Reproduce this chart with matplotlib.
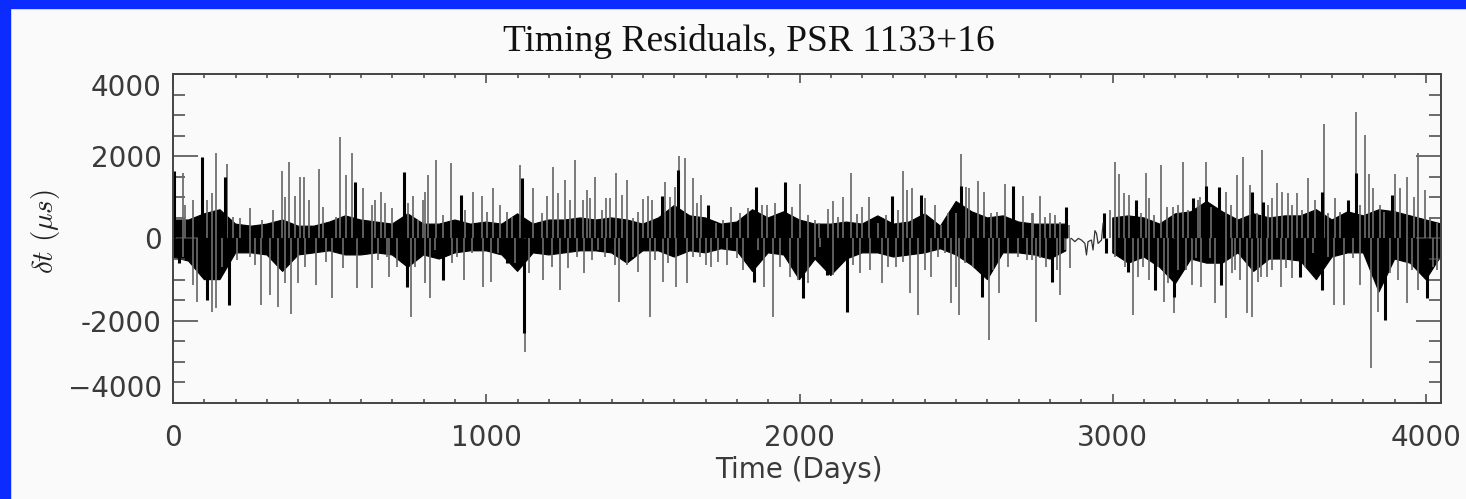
import numpy as np
import matplotlib
matplotlib.use("Agg")
from matplotlib import pyplot as plt
from matplotlib.ticker import MultipleLocator
from matplotlib.patches import Rectangle

# dense core of the residual band, sampled every 50 days (NaN = no data)
band_day = np.arange(0, 4051, 50)
band_hi = [450, 450, 600, 700, 350, 300, 350, 450, 300, 300, 400, 550, 450, 400,
           350, 600, 350, 350, 450, 350, 400, 350, 600, 350, 450, 450, 500, 450,
           500, 450, 350, 500, 800, 550, 500, 350, 400, 700, 500, 650, 450, 350,
           350, 400, 350, 550, 350, 400, 600, 300, 900, 650, 500, 550, 400, 350,
           350, 350, np.nan, np.nan, 500, 550, 500, 350, 600, 650, 900, 650, 450,
           600, 500, 550, 550, 700, 450, 650, 550, 700, 650, 550, 450, 350]
band_lo = [-450, -550, -1000, -1000, -350, -350, -400, -800, -400, -350, -300, -400,
           -400, -350, -400, -700, -400, -500, -350, -300, -300, -400, -800, -350,
           -400, -350, -300, -300, -350, -600, -300, -300, -450, -300, -350, -250,
           -300, -800, -350, -400, -1000, -500, -900, -500, -350, -350, -450, -400,
           -350, -250, -400, -650, -1000, -350, -350, -400, -500, -300, np.nan, np.nan,
           -350, -600, -450, -700, -1100, -500, -600, -600, -350, -800, -500, -500,
           -550, -1000, -450, -350, -350, -1300, -500, -600, -1000, -400]

# single outlying residuals (thin grey lines)
spike_day = [33, 38, 63, 110, 126, 137, 174, 190, 214, 246, 283, 320, 347, 357, 371,
             389, 407, 419, 435, 467, 480, 519, 533, 551, 573, 605, 634, 645, 664, 677,
             698, 749, 767, 783, 799, 805, 815, 840, 863, 887, 932, 959, 986, 1002,
             1020, 1044, 1065, 1081, 1108, 1150, 1177, 1193, 1214, 1230, 1252, 1268,
             1283, 1310, 1321, 1331, 1347, 1369, 1382, 1395, 1414, 1432, 1450, 1467,
             1485, 1501, 1515, 1528, 1570, 1586, 1602, 1616, 1636, 1659, 1672, 1684,
             1735, 1757, 1780, 1810, 1836, 1879, 1895, 1922, 1975, 2001, 2028, 2049,
             2062, 2092, 2108, 2123, 2139, 2164, 2182, 2200, 2221, 2251, 2276, 2313,
             2331, 2342, 2360, 2402, 2432, 2453, 2475, 2501, 2517, 2530, 2541, 2570,
             2590, 2611, 2629, 2656, 2714, 2741, 2746, 2767, 2783, 2799, 2815, 2833,
             2861, 2991, 3007, 3021, 3037, 3052, 3090, 3105, 3116, 3131, 3153, 3172,
             3191, 3209, 3225, 3241, 3271, 3280, 3297, 3315, 3361, 3377, 3395, 3416,
             3438, 3459, 3475, 3494, 3509, 3523, 3539, 3558, 3571, 3589, 3603, 3624,
             3645, 3673, 3688, 3709, 3725, 3775, 3789, 3805, 3818, 3830, 3853, 3867,
             3901, 3917, 3938, 3962, 3975, 3997, 4012, 4034,
             33, 65, 78, 123, 137, 155, 203, 246, 262, 280, 310, 334, 357, 376, 400,
             421, 455, 490, 508, 544, 586, 634, 655, 682, 688, 714, 760, 773, 803, 821,
             837, 890, 906, 930, 954, 989, 1015, 1039, 1092, 1124, 1137, 1180, 1209,
             1236, 1262, 1289, 1313, 1337, 1358, 1379, 1411, 1425, 1448, 1469, 1485,
             1523, 1539, 1563, 1581, 1606, 1642, 1661, 1682, 1701, 1719, 1741, 1767,
             1799, 1821, 1868, 1888, 1916, 1938, 1970, 1996, 2028, 2049, 2065, 2108,
             2171, 2193, 2225, 2262, 2283, 2308, 2331, 2354, 2379, 2400, 2421, 2441,
             2464, 2485, 2501, 2510, 2528, 2554, 2604, 2618, 2636, 2666, 2698, 2725,
             2741, 2755, 2767, 2787, 2823, 2831, 2847, 2863, 3007, 3039, 3065, 3081,
             3097, 3115, 3145, 3164, 3177, 3195, 3209, 3233, 3252, 3267, 3283, 3310,
             3326, 3363, 3379, 3390, 3406, 3427, 3445, 3465, 3473, 3491, 3507, 3536,
             3552, 3571, 3614, 3640, 3686, 3707, 3739, 3768, 3789, 3824, 3848, 3885,
             3911, 3938, 3954, 3973, 4023, 4034]
spike_val = [1590, 810, 935, 935, 1100, 2085, 1815, 530, 490, 735, 450, 690, 1640, 1000,
             1865, 1030, 1500, 1500, 935, 1680, 775, 530, 2460, 1545, 2085, 1220, 815,
             935, 1140, 855, 735, 855, 1030, 450, 935, 1140, 1545, 1905, 570, 1825, 690,
             1140, 1030, 650, 1220, 815, 650, 530, 1785, 1220, 610, 1030, 1730, 1100,
             1420, 935, 1905, 935, 1180, 975, 1500, 690, 975, 975, 1600, 1055, 1420,
             490, 650, 950, 1030, 935, 1380, 1015, 1260, 2005, 1950, 1460, 855, 1055,
             370, 450, 775, 610, 735, 815, 815, 855, 775, 1325, 570, 450, 370, 710, 920,
             530, 1000, 1600, 595, 775, 1000, 370, 570, 690, 1640, 1180, 1220, 975, 815,
             330, 610, 610, 2055, 1260, 1220, 1405, 1140, 610, 650, 1325, 1030, 610,
             610, 1030, 530, 610, 570, 410, 330, 690, 1865, 1580, 1100, 1055, 610, 1600,
             975, 570, 1785, 775, 775, 815, 1865, 690, 935, 1015, 1865, 775, 1140, 815,
             1545, 1990, 1300, 610, 2150, 815, 975, 1355, 1140, 1100, 815, 1100, 690,
             1460, 935, 2780, 610, 975, 650, 3080, 815, 2515, 1580, 1220, 815, 650,
             1580, 1220, 1500, 1015, 2070, 1180, 530, 370,
             -440, -1130, -1540, -1780, -1700, -685, -520, -440, -640, -1620, -1375,
             -1660, -1090, -1835, -1090, -685, -1130, -565, -1455, -725, -1210, -1210,
             -520, -440, -930, -685, -1900, -685, -1090, -1455, -280, -600, -440, -1010,
             -360, -1170, -1050, -360, -600, -2750, -845, -1010, -685, -1250, -725,
             -440, -845, -520, -280, -440, -645, -1540, -645, -440, -805, -1900, -520,
             -1050, -600, -1170, -1090, -440, -440, -645, -685, -565, -645, -480, -765,
             -280, -1170, -1900, -685, -930, -1010, -1090, -440, -200, -890, -645, -845,
             -765, -1090, -685, -685, -565, -1315, -1860, -765, -930, -440, -360, -1580,
             -1170, -1860, -600, -685, -2465, -765, -1335, -685, -440, -520, -520, -2020,
             -480, -685, -765, -1375, -280, -725, -440, -685, -1860, -930, -685, -1010,
             -685, -1540, -1090, -1820, -765, -765, -1130, -480, -1170, -480, -1580,
             -1945, -845, -765, -1010, -1820, -1900, -1050, -930, -930, -765, -1170,
             -725, -970, -685, -360, -440, -1620, -1620, -480, -1130, -3150, -1780,
             -845, -1010, -1580, -765, -1250, -685, -765]

# heavier clusters of residuals (black strokes)
dark_day = [3, 20, 94, 110, 166, 180, 581, 736, 746, 863, 920, 1065, 1115, 1122, 1560,
            1613, 1709, 1856, 1861, 1954, 2012, 2089, 2150, 2296, 2389, 2514, 2581,
            2682, 2805, 2850, 2972, 2978, 3047, 3074, 3134, 3195, 3257, 3299, 3340,
            3344, 3445, 3481, 3598, 3669, 3669, 3752, 3778, 3869, 3890, 4002]
dark_val = [1630, -600, 1990, -1500, 1500, -1620, 1380, 1625, -1170, -1010, 1055, -600,
            1460, -2300, 1030, 1660, 815, -1050, 1260, 1380, -1455, -890, -1780, 1030,
            1055, 1275, -1415, 1275, -1050, 775, 610, -360, -805, 935, -1250, -1415,
            975, 1275, 1260, -1130, 1140, 895, -930, 1140, -1250, 935, 1600, -1980,
            1055, -1455]

# quiet stretch with no large outliers
gap_day = [2868, 2879, 2890, 2900, 2911, 2916, 2921, 2932, 2937, 2943, 2948, 2953,
           2964, 2969]
gap_val = [0, -77, 2, -38, -120, -400, -77, -38, -280, 190, 125, -120, -38, 365]

fig = plt.figure(figsize=(14.66, 4.99), dpi=100)
fig.patch.set_facecolor('#fafafa')
fig.patches.append(Rectangle((0, 0), 10 / 1466, 1, transform=fig.transFigure,
                             color='#0c2cff', zorder=0))
fig.patches.append(Rectangle((0, 1 - 8 / 499), 1, 8 / 499, transform=fig.transFigure,
                             color='#0c2cff', zorder=0))

ax = fig.add_axes([0.1180, 0.1924, 0.8650, 0.6593])
ax.set_facecolor('#fafafa')

ax.vlines(spike_day, 0, spike_val, color='#6a6a6a', lw=1.25)
ax.fill_between(band_day, band_lo, band_hi, color='black', lw=0.8, edgecolor='black')
ax.vlines(dark_day, 0, dark_val, color='black', lw=2.2)
ax.plot(gap_day, gap_val, color='#333333', lw=0.9)

ax.set_xlim(0, 4048)
ax.set_ylim(-4000, 4000)
ax.set_xticks([0, 1000, 2000, 3000, 4000])
ax.set_yticks([-4000, -2000, 0, 2000, 4000])
ax.set_yticklabels(['\u22124000', '-2000', '0', '2000', '4000'])
ax.xaxis.set_minor_locator(MultipleLocator(100))
ax.yaxis.set_minor_locator(MultipleLocator(500))

tick_col = '#444444'
ax.tick_params(which='both', direction='in', top=True, right=True, color=tick_col,
               width=1.1, labelsize=20, labelcolor='#3a3a3a')
ax.tick_params(axis='x', which='major', length=6.5, pad=15)
ax.tick_params(axis='x', which='minor', length=3.2)
ax.tick_params(axis='y', which='major', length=18, pad=8)
ax.tick_params(axis='y', which='minor', length=8.6)
for sp in ax.spines.values():
    sp.set_color(tick_col)
    sp.set_linewidth(1.4)

# end labels sit inside the axis range, as in the original plot
ylabs = ax.get_yticklabels()
ylabs[0].set_verticalalignment('bottom')
ylabs[-1].set_verticalalignment('top')

fig.text(0.511, 0.916, 'Timing Residuals, PSR 1133+16', ha='center', va='center',
         family='Liberation Serif', fontsize=27, color='#111111')
fig.text(0.545, 0.058, 'Time (Days)', ha='center', va='center', fontsize=20,
         color='#3a3a3a')
plt.rcParams['mathtext.fontset'] = 'cm'
fig.text(0.031, 0.535, r'$\delta t\ (\mu s)$', ha='center', va='center', rotation=90,
         fontsize=21, color='#222222')

fig.savefig('out.png', dpi=100, facecolor=fig.get_facecolor())
